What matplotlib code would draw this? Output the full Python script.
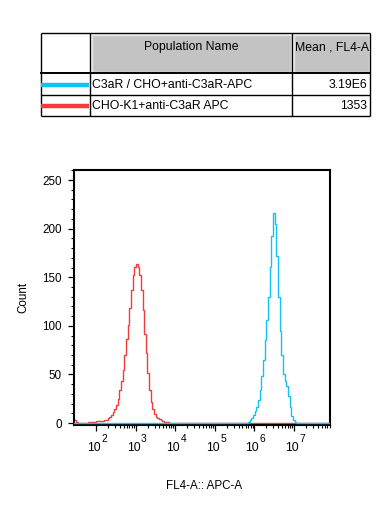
import numpy as np
import matplotlib
matplotlib.use("Agg")
import matplotlib.pyplot as plt
from matplotlib.patches import Rectangle
from matplotlib.ticker import FixedLocator, NullFormatter
from matplotlib.transforms import blended_transform_factory, offset_copy

plt.rcParams['font.family'] = ['Liberation Sans', 'DejaVu Sans']

# ---------------- data ----------------
populations = ["C3aR / CHO+anti-C3aR-APC", "CHO-K1+anti-C3aR APC"]
means = ["3.19E6", "1353"]
header = ["Population Name", "Mean , FL4-A"]
colors = ["#12c3f2", "#f53a3a"]

bin_step = 0.042  # decades per histogram channel
red_start = 1.41
red_counts = [5, 3, 1, 0, 0, 0, 0, 0, 0, 1, 1, 1, 1, 1, 2, 2, 2, 2, 2, 3,
              3, 5, 6, 8, 11, 14, 19, 25, 34, 43, 55, 70, 86, 101, 118, 137,
              152, 161, 164, 161, 152, 137, 116, 92, 72, 51, 34, 22, 14, 9,
              6, 5, 4, 3, 2, 1, 1, 1, 0]
blue_start = 5.80
blue_counts = [0, 1, 3, 5, 8, 12, 17, 24, 34, 48, 65, 85, 106, 130, 161, 192,
               216, 205, 172, 130, 95, 70, 50, 43, 38, 28, 16, 7, 3, 1, 0]

xlog_min, xlog_max = 1.444, 7.909
y_min, y_max = -1.5, 260.3
major_decades = [2, 3, 4, 5, 6, 7]
yticks_major = [0, 50, 100, 150, 200, 250]

# ---------------- figure ----------------
W, H = 388, 516
fig = plt.figure(figsize=(W / 100, H / 100), dpi=100)

ax = fig.add_axes([74 / W, 1 - 424.5 / H, (330 - 74) / W, (424.5 - 170) / H])


def full_hist(start, counts):
    n_left = int(round((start - (xlog_min - 0.1)) / bin_step))
    s = start - n_left * bin_step
    vals = [0] * n_left + list(counts)
    n_right = int(np.ceil((xlog_max + 0.1 - (s + bin_step * len(vals))) / bin_step))
    vals = vals + [0] * max(n_right, 0)
    edges = 10 ** (s + bin_step * np.arange(len(vals) + 1))
    return np.array(vals, float), edges


rv, re_ = full_hist(red_start, red_counts)
bv, be = full_hist(blue_start, blue_counts)
ax.stairs(rv, re_, color=colors[1], lw=1.0, baseline=None, zorder=2)
ax.stairs(bv, be, color=colors[0], lw=1.0, baseline=None, zorder=3)

ax.set_xscale('log')
ax.set_xlim(10 ** xlog_min, 10 ** xlog_max)
ax.set_ylim(y_min, y_max)

ax.xaxis.set_major_locator(FixedLocator([10.0 ** d for d in major_decades]))
ax.xaxis.set_major_formatter(NullFormatter())
minors = [m * 10.0 ** d for d in range(2, 8) for m in range(2, 10)]
ax.xaxis.set_minor_locator(FixedLocator(minors))
ax.xaxis.set_minor_formatter(NullFormatter())

# decade labels: "10" with raised exponent
trans = blended_transform_factory(ax.transData, fig.transFigure)
for d in major_decades:
    xv = 10.0 ** d
    tb = offset_copy(trans, fig=fig, x=-2.0 * 0.72, y=0, units='points')
    ax.text(xv, 1 - 448 / H, "10", transform=tb, ha='center', va='center',
            fontsize=8.7, clip_on=False)
    te = offset_copy(trans, fig=fig, x=8.3 * 0.72, y=0, units='points')
    ax.text(xv, 1 - 438.5 / H, str(d), transform=te, ha='center', va='center',
            fontsize=7.4, clip_on=False)

ax.set_yticks(yticks_major)
ax.set_yticks(np.arange(0, 261, 10), minor=True)

for s in ax.spines.values():
    s.set_linewidth(1.5)
ax.tick_params(axis='both', which='major', length=4, width=0.9, labelsize=8.4,
               direction='out', color='black')
ax.tick_params(axis='both', which='minor', length=2.3, width=0.8, direction='out')
ax.tick_params(axis='y', which='major', pad=5)
ax.set_ylabel('Count', fontsize=8.4)
ax.set_xlabel('FL4-A:: APC-A', fontsize=8.4)
ax.xaxis.set_label_coords(0.51, -0.22)
ax.yaxis.set_label_coords(-0.176, 0.5)

# ---------------- table ----------------
tax = fig.add_axes([0, 0, 1, 1])
tax.set_xlim(0, W)
tax.set_ylim(H, 0)
tax.axis('off')

x0, x1, x2, x3 = 41, 90, 292, 370
y0, y1, y2, y3 = 33, 73, 95, 116

# header gray cells
for (a, b) in [(x1, x2), (x2, x3)]:
    tax.add_patch(Rectangle((a + 1.5, y0 + 1.5), b - a - 3, y1 - y0 - 3,
                            facecolor='#c3c3c3', edgecolor='#e6e6e6', lw=1.0))
# grid lines
lk = dict(color='black', lw=1.0, solid_capstyle='butt')
tax.plot([x0, x3], [y0, y0], **lk)
tax.plot([x0, x3], [y1, y1], color='black', lw=1.4)
tax.plot([x0, x3], [y2, y2], **lk)
tax.plot([x0, x3], [y3, y3], **lk)
tax.plot([x0, x0], [y0, y3], **lk)
tax.plot([x1, x1], [y0, y3], **lk)
tax.plot([x2, x2], [y0, y3], **lk)
tax.plot([x3, x3], [y0, y3], **lk)

fs = 8.8
tax.text((x1 + x2) / 2, 47, header[0], ha='center', va='center', fontsize=fs)
t = tax.text(x2 + 3, 47, header[1], ha='left', va='center', fontsize=fs)
t.set_clip_path(Rectangle((x2, y0), x3 - x2 - 1, y1 - y0, transform=tax.transData))
t.set_clip_on(True)

row_y = [(y1 + y2) / 2 + 0.5, (y2 + y3) / 2 + 0.5]
line_y = [84.5, 105.5]
for i in range(2):
    tax.text(x1 + 2.5, row_y[i], populations[i], ha='left', va='center', fontsize=fs)
    tax.text(x3 - 3, row_y[i], means[i], ha='right', va='center', fontsize=fs)
    tax.plot([x0, x1 - 1], [line_y[i], line_y[i]], color=colors[i], lw=3.2,
             solid_capstyle='butt')

fig.savefig('out.png', dpi=100)
